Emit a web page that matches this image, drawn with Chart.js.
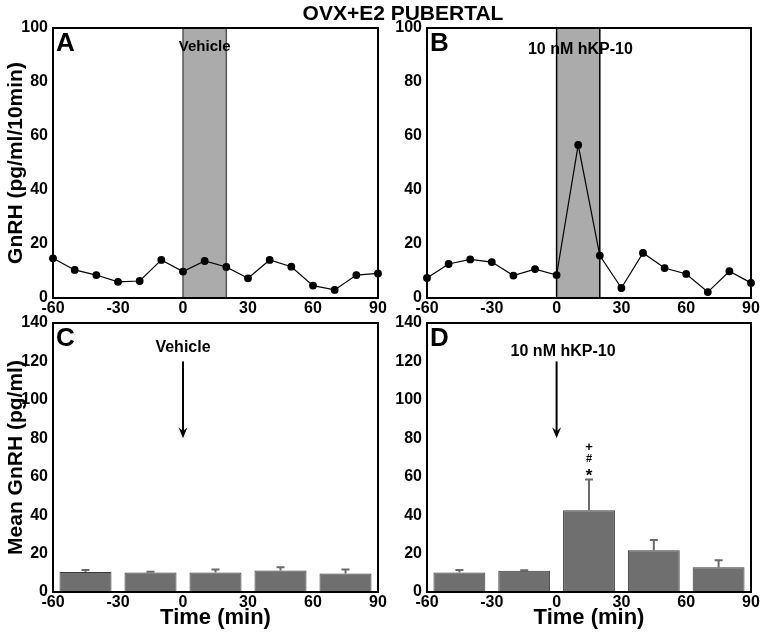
<!DOCTYPE html>
<html lang="en">
<head>
<meta charset="UTF-8" />
<title>OVX+E2 PUBERTAL</title>
<script src="https://cdn.jsdelivr.net/npm/chart.js"></script>
<style>
  body { margin: 0; background: #fff; }
  #wrap { position: relative; width: 762px; height: 634px; }
  #wrap canvas { position: absolute; left: 0; top: 0; }
  #title { position: absolute; left: 0; width: 806px; top: 1px; text-align: center;
           font: bold 21px "Liberation Sans", Arial, sans-serif; }
</style>
</head>
<body>
<div id="wrap">
  <canvas id="chartA" width="762" height="634"></canvas>
  <canvas id="chartB" width="762" height="634"></canvas>
  <canvas id="chartC" width="762" height="634"></canvas>
  <canvas id="chartD" width="762" height="634"></canvas>
  <div id="title">OVX+E2 PUBERTAL</div>
</div>
<script>
// sampling times (min) for the perifusion traces
const times = [-60, -50, -40, -30, -20, -10, 0, 10, 20, 30, 40, 50, 60, 70, 80, 90];
const gnrhVehicle = [14.7, 10.4, 8.5, 6.0, 6.3, 14.1, 9.8, 13.7, 11.5, 7.3, 14.1, 11.6, 4.6, 3.0, 8.5, 9.1];
const gnrhKp10 = [7.4, 12.6, 14.3, 13.3, 8.3, 10.7, 8.5, 56.7, 15.7, 3.7, 16.7, 11.1, 8.9, 2.2, 9.9, 5.6];

// 30 min bins (mid points) for the mean bars
const binMid = [-45, -15, 15, 45, 75];
const meanVehicle = [10.4, 10.1, 10.1, 11.2, 9.6];
const semVehicle = [1.1, 0.5, 1.6, 1.7, 2.1];
const meanKp10 = [10.1, 11.0, 42.6, 21.7, 12.9];
const semKp10 = [1.4, 0.3, 16.0, 5.3, 3.6];
const sigMarks = ["+", "#", "*"];

const xTicks = [-60, -30, 0, 30, 60, 90];

Chart.defaults.font.family = "'Liberation Sans', Arial, sans-serif";
Chart.defaults.font.weight = "bold";
Chart.defaults.color = "#000";

const FONT = "'Liberation Sans', Arial, sans-serif";

const decor = {
  id: "decor",
  beforeDatasetsDraw(chart, args, o) {
    const { ctx, chartArea: a, scales: { x, y } } = chart;
    if (o.band) {
      const x0 = x.getPixelForValue(o.band[0]);
      const x1 = x.getPixelForValue(o.band[1]);
      ctx.save();
      ctx.fillStyle = "#ababab";
      ctx.fillRect(x0, a.top, x1 - x0, a.bottom - a.top);
      ctx.strokeStyle = o.bandEdge;
      ctx.lineWidth = 1.5;
      ctx.beginPath();
      ctx.moveTo(x0, a.top); ctx.lineTo(x0, a.bottom);
      ctx.moveTo(x1, a.top); ctx.lineTo(x1, a.bottom);
      ctx.stroke();
      ctx.restore();
    }
  },
  afterDatasetsDraw(chart, args, o) {
    const { ctx, chartArea: a, scales: { x, y } } = chart;
    ctx.save();
    // error bars (upper half only)
    if (o.mean) {
      ctx.strokeStyle = "#6a6a6a";
      ctx.lineWidth = 2;
      o.mean.forEach((m, i) => {
        const px = x.getPixelForValue(binMid[i]);
        const y0 = y.getPixelForValue(m);
        const y1 = y.getPixelForValue(m + o.sem[i]);
        ctx.beginPath();
        ctx.moveTo(px, y0); ctx.lineTo(px, y1);
        ctx.moveTo(px - 4, y1); ctx.lineTo(px + 4, y1);
        ctx.stroke();
      });
    }
    // treatment label
    ctx.fillStyle = "#000";
    ctx.textAlign = "center";
    ctx.textBaseline = "middle";
    ctx.font = "bold " + o.labelSize + "px " + FONT;
    ctx.fillText(o.label, x.getPixelForValue(o.labelX), y.getPixelForValue(o.labelY));
    // arrow
    if (o.arrow) {
      const px = x.getPixelForValue(0);
      const ya = y.getPixelForValue(o.arrow[0]);
      const yb = y.getPixelForValue(o.arrow[1]);
      ctx.strokeStyle = "#000";
      ctx.lineWidth = 2;
      ctx.beginPath();
      ctx.moveTo(px, ya); ctx.lineTo(px, yb - 4);
      ctx.stroke();
      ctx.beginPath();
      ctx.moveTo(px - 4.5, yb - 11); ctx.lineTo(px, yb); ctx.lineTo(px + 4.5, yb - 11);
      ctx.lineTo(px, yb - 7); ctx.closePath();
      ctx.fill();
    }
    // significance marks over the peak bin
    if (o.marks) {
      const px = x.getPixelForValue(15);
      const sizes = [13, 11, 17];
      const vals = [75, 69, 62];
      o.marks.forEach((s, i) => {
        ctx.font = "bold " + sizes[i] + "px " + FONT;
        ctx.fillText(s, px, y.getPixelForValue(vals[i]) + (s === "*" ? 3 : 0));
      });
    }
    // panel letter
    ctx.textAlign = "left";
    ctx.textBaseline = "top";
    ctx.font = "bold 26px " + FONT;
    ctx.fillText(o.letter, a.left + 3, a.top + 3);
    // frame
    ctx.strokeStyle = "#000";
    ctx.lineWidth = 2;
    ctx.strokeRect(a.left, a.top, a.right - a.left, a.bottom - a.top);
    ctx.restore();
  }
};
Chart.register(decor);

function scalesFor(yMax, yStep, yTitle, yWidth, xTitle, xHeight) {
  return {
    x: {
      type: "linear", min: -60, max: 90, offset: false,
      afterBuildTicks: (s) => { s.ticks = xTicks.map((v) => ({ value: v })); },
      afterFit: (s) => { s.height = xHeight; },
      grid: { display: false, drawTicks: false },
      border: { display: false },
      ticks: { font: { size: 16 }, padding: 1, autoSkip: false, maxRotation: 0 },
      title: { display: !!xTitle, text: xTitle, font: { size: 22 }, padding: { top: 0, bottom: 3 } }
    },
    y: {
      min: 0, max: yMax,
      afterFit: (s) => { s.width = yWidth; },
      grid: { display: false, drawTicks: false },
      border: { display: false },
      ticks: { stepSize: yStep, font: { size: 16 }, padding: 5 },
      title: { display: !!yTitle, text: yTitle, font: { size: 21 }, padding: { top: 4, bottom: 0 } }
    }
  };
}

function lineChart(id, vals, pad, yTitle, yWidth, deco) {
  new Chart(document.getElementById(id), {
    type: "line",
    data: {
      datasets: [{
        data: times.map((t, i) => ({ x: t, y: vals[i] })),
        borderColor: "#000", backgroundColor: "#000",
        borderWidth: 1.2, pointRadius: 3.3, tension: 0, clip: false
      }]
    },
    options: {
      responsive: false, animation: false, events: [],
      layout: { padding: pad },
      plugins: { legend: { display: false }, tooltip: { enabled: false }, decor: deco },
      scales: scalesFor(100, 20, yTitle, yWidth, "", 22)
    }
  });
}

function barChart(id, means, pad, yTitle, yWidth, deco) {
  new Chart(document.getElementById(id), {
    type: "bar",
    data: {
      datasets: [{
        data: binMid.map((t, i) => ({ x: t, y: means[i] })),
        backgroundColor: "#6f6f6f",
        borderColor: "#3a3a3a", borderWidth: 1,
        barPercentage: 0.8, categoryPercentage: 1
      }]
    },
    options: {
      responsive: false, animation: false, events: [],
      layout: { padding: pad },
      plugins: { legend: { display: false }, tooltip: { enabled: false }, decor: deco },
      scales: scalesFor(140, 20, yTitle, yWidth, "Time (min)", 42)
    }
  });
}

lineChart("chartA", gnrhVehicle, { left: 0, top: 28, right: 384, bottom: 314 },
  "GnRH (pg/ml/10min)", 53,
  { letter: "A", band: [0, 20], bandEdge: "#555", label: "Vehicle", labelX: 10, labelY: 93, labelSize: 15 });
lineChart("chartB", gnrhKp10, { left: 387, top: 28, right: 11, bottom: 314 },
  "", 40,
  { letter: "B", band: [0, 20], bandEdge: "#000", label: "10 nM hKP-10", labelX: 11, labelY: 92, labelSize: 16 });
barChart("chartC", meanVehicle, { left: 0, top: 323, right: 384, bottom: 0 },
  "Mean GnRH (pg/ml)", 53,
  { letter: "C", mean: meanVehicle, sem: semVehicle, label: "Vehicle", labelX: 0, labelY: 127,
    labelSize: 16, arrow: [120, 80] });
barChart("chartD", meanKp10, { left: 387, top: 323, right: 11, bottom: 0 },
  "", 40,
  { letter: "D", mean: meanKp10, sem: semKp10, label: "10 nM hKP-10", labelX: 3, labelY: 125,
    labelSize: 16, arrow: [120, 80], marks: sigMarks });
</script>
</body>
</html>
